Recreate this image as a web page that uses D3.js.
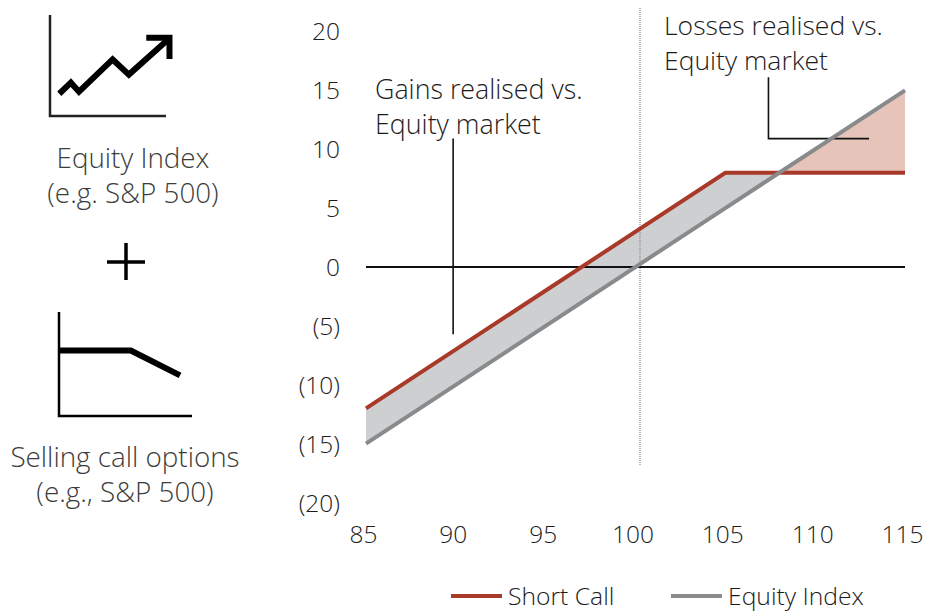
<!DOCTYPE html>
<html>
<head>
<meta charset="utf-8">
<script src="https://cdn.jsdelivr.net/npm/d3@7"></script>
<style>
  html, body { margin: 0; padding: 0; background: #fff; }
  text { font-family: "Open Sans", sans-serif; font-weight: 300; font-size: 24.5px; fill: #1c1c1c; }
  .note { font-size: 26.8px; }
  .note.loss { font-size: 26.5px; }
  .caption { fill: #3c3c3c; font-size: 27.8px; }
  .legend { font-size: 24.7px; }
</style>
</head>
<body>
<svg id="chart" width="926" height="612"></svg>
<script>
// payoff values at index levels
const levels = [85, 105, 108, 115];
const shortCall = [-12, 8, 8, 8];
const equityIndex = [-15, 5, 8, 15];

const xTicks = [85, 90, 95, 100, 105, 110, 115];
const yTicks = [20, 15, 10, 5, 0, -5, -10, -15, -20];

const gainLevels = [85, 105, 108];
const lossLevels = [108, 115];

// little icons, in their own 0-100 units
const iconOneAxis = [[0, 100], [0, 0], [100, 0]];
const iconOneLine = [[8, 22], [18, 33], [25, 24], [54, 56], [68, 41], [102, 76]];
const iconOneHead = [[83, 77.5], [103, 77.5], [103, 56.5]];
const iconTwoAxis = [[0, 100], [0, 0], [100, 0]];
const iconTwoLine = [[0, 63], [54, 63], [91, 39]];

const svg = d3.select("#chart");

let x = d3.scaleLinear().domain([85, 115]).range([366, 905]);
let y = d3.scaleLinear().domain([-20, 20]).range([502.6, 31.4]);

let line = d3.line().x(d => x(d[0])).y(d => y(d[1]));

function valueAt(series, level) {
    let xs = levels, i = d3.bisectLeft(xs, level);
    if (xs[i] === level) return series[i];
    return series[i - 1] + (series[i] - series[i - 1]) * (level - xs[i - 1]) / (xs[i] - xs[i - 1]);
}

// shaded areas between the two lines
let area = d3.area()
    .x(d => x(d))
    .y0(d => y(valueAt(shortCall, d)))
    .y1(d => y(valueAt(equityIndex, d)));

svg.append("path").attr("d", area(gainLevels)).attr("fill", "#cdcfd1");
svg.append("path").attr("d", area(lossLevels)).attr("fill", "#e6c4ba");

// dotted line at 100
svg.append("line")
    .attr("x1", x(100) + 4.5).attr("x2", x(100) + 4.5)
    .attr("y1", 8).attr("y2", 465)
    .attr("stroke", "#777").attr("stroke-width", 1).attr("stroke-dasharray", "1,1");

// zero line
svg.append("line")
    .attr("x1", x(85)).attr("x2", x(115))
    .attr("y1", y(0)).attr("y2", y(0))
    .attr("stroke", "#111").attr("stroke-width", 2);

// callout lines
svg.append("path")
    .attr("d", line([[89.85, 10.9], [89.85, -5.7]]))
    .attr("fill", "none").attr("stroke", "#111").attr("stroke-width", 1.6);
svg.append("path")
    .attr("d", line([[107.4, 16.1], [107.4, 10.9], [113, 10.9]]))
    .attr("fill", "none").attr("stroke", "#111").attr("stroke-width", 1.6);

// series
svg.append("path")
    .attr("d", line(d3.zip(levels, shortCall)))
    .attr("fill", "none").attr("stroke", "#a93a2a").attr("stroke-width", 4);
svg.append("path")
    .attr("d", line(d3.zip(levels, equityIndex)))
    .attr("fill", "none").attr("stroke", "#888a8c").attr("stroke-width", 4);

// axes, labels only
let yAxis = d3.axisLeft(y).tickValues(yTicks).tickSize(0).tickPadding(0)
    .tickFormat(d => d < 0 ? "(" + (-d) + ")" : d);
let yGroup = svg.append("g").attr("transform", "translate(340,0)").call(yAxis);
yGroup.select(".domain").remove();
yGroup.selectAll("text").attr("text-anchor", "end").attr("dy", "0.35em");

let xAxis = d3.axisBottom(x).tickValues(xTicks).tickSize(0).tickPadding(0);
let xGroup = svg.append("g").attr("transform", "translate(-3,523)").call(xAxis);
xGroup.select(".domain").remove();
xGroup.selectAll("text").attr("dy", "0.8em");

// two line text blocks, one text element each
function addLines(lines, px, py, cls, anchor) {
    let block = svg.append("text")
        .attr("x", px).attr("y", py)
        .attr("class", cls)
        .attr("text-anchor", anchor);
    lines.forEach((t, i) => {
        block.append("tspan")
            .attr("x", px)
            .attr("dy", i == 0 ? 0 : 34.5)
            .text(t);
    });
}
addLines(["Gains realised vs.", "Equity market"], 375, 99, "note", "start");
addLines(["Losses realised vs.", "Equity market"], 664, 35, "note loss", "start");

// left side captions
addLines(["Equity Index", "(e.g. S&P 500)"], 133, 168, "caption", "middle");
addLines(["Selling call options", "(e.g., S&P 500)"], 125, 467, "caption", "middle");

// icons
let oneX = d3.scaleLinear().domain([0, 100]).range([50, 166]);
let oneY = d3.scaleLinear().domain([0, 100]).range([116, 15]);
let oneLine = d3.line().x(d => oneX(d[0])).y(d => oneY(d[1]));
let twoX = d3.scaleLinear().domain([0, 100]).range([59, 192]);
let twoY = d3.scaleLinear().domain([0, 100]).range([416, 312]);
let twoLine = d3.line().x(d => twoX(d[0])).y(d => twoY(d[1]));

svg.append("path").attr("d", oneLine(iconOneAxis)).attr("fill", "none").attr("stroke", "#222").attr("stroke-width", 2.5);
svg.append("path").attr("d", oneLine(iconOneLine)).attr("fill", "none").attr("stroke", "#000").attr("stroke-width", 6);
svg.append("path").attr("d", oneLine(iconOneHead)).attr("fill", "none").attr("stroke", "#000").attr("stroke-width", 6);
svg.append("path").attr("d", twoLine(iconTwoAxis)).attr("fill", "none").attr("stroke", "#000").attr("stroke-width", 2.5);
svg.append("path").attr("d", twoLine(iconTwoLine)).attr("fill", "none").attr("stroke", "#000").attr("stroke-width", 6);

// plus sign
svg.append("path").attr("d", "M107,262H145M126,243V280").attr("stroke", "#000").attr("stroke-width", 3.5);

// legend
const legendNames = ["Short Call", "Equity Index"];
const legendColors = ["#a93a2a", "#888a8c"];
let legendX = d3.scalePoint().domain(legendNames).range([451, 671]);
legendNames.forEach((name, i) => {
    let lx = legendX(name);
    svg.append("line").attr("x1", lx).attr("x2", lx + 51).attr("y1", 596).attr("y2", 596)
        .attr("stroke", legendColors[i]).attr("stroke-width", 4);
    svg.append("text").attr("x", lx + 57).attr("y", 605).attr("class", "legend").text(name);
});
</script>
</body>
</html>
